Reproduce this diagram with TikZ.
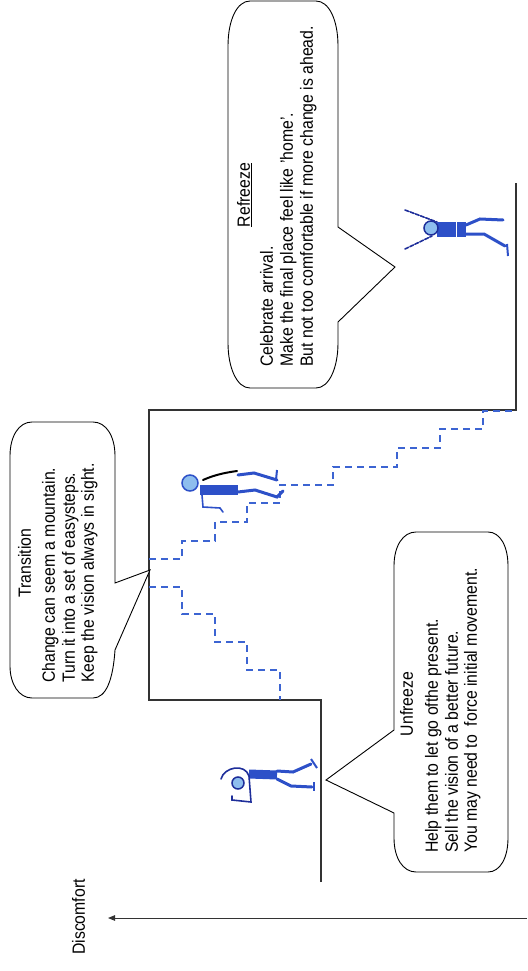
\documentclass[tikz,border=0pt]{standalone}
\usepackage{fontspec}
\setmainfont{Liberation Sans}
\usetikzlibrary{arrows.meta}
\definecolor{figblue}{HTML}{2D50C8}
\definecolor{navy}{HTML}{1E2E9A}
\definecolor{headblue}{HTML}{8EBEEE}
\definecolor{stairblue}{HTML}{3C64D2}
\definecolor{wallgray}{HTML}{333333}
\begin{document}
\begin{tikzpicture}[x=1pt,y=-1pt,
  bodytxt/.style={rotate=90, yscale=1.12, anchor=mid west, inner sep=0pt,
    font=\fontsize{15.8}{19}\selectfont},
  titletxt/.style={rotate=90, yscale=1.12, anchor=mid, inner sep=0pt,
    font=\fontsize{15.8}{19}\selectfont},
  bubble/.style={draw=black, line width=0.9pt, fill=white},
  wall/.style={draw=wallgray, line width=1.3pt},
  stairline/.style={draw=stairblue, line width=1.2pt, dash pattern=on 7pt off 5pt},
  limb/.style={draw=figblue, line width=3pt, line cap=round},
  outline/.style={draw=navy, line width=1.6pt, line cap=round},
  headshape/.style={draw=navy, fill=headblue, line width=1.5pt}]
\useasboundingbox (0,0) rectangle (527,971);

% ---- the floors: present level, stairs landing, future level
\draw[wall] (321,882) -- (321,700) -- (149,700) -- (149,410) -- (516,410) -- (516,183);

% ---- dashed steps of the transition
\draw[stairline] (149,559) -- (182,559) -- (182,541) -- (215,541) -- (215,522)
  -- (247,522) -- (247,503) -- (280,503) -- (280,485) -- (333,485) -- (333,467)
  -- (397,467) -- (397,448) -- (440,448) -- (440,429) -- (483,429) -- (483,411)
  -- (516,411);
\draw[stairline] (149,587) -- (182,587) -- (182,614) -- (215,614) -- (215,642)
  -- (247,642) -- (247,670) -- (280,670) -- (280,700);

% ---- discomfort axis
\coordinate (axisR) at (527,918);
\coordinate (axisL) at (108,918);
\draw[wallgray, line width=1pt, -{Triangle[length=7pt,width=5.5pt]}] (axisR) -- (axisL);
\node[titletxt] (discomfort) at (82,917) {Discomfort};

% ---- Refreeze callout
\draw[bubble] (250,1) -- (316,1) .. controls (329,1) and (338,20) .. (338,46)
  -- (338,227) -- (395,267) -- (338,322) -- (338,343)
  .. controls (338,368) and (329,388) .. (316,388) -- (250,388)
  .. controls (237,388) and (228,368) .. (228,343) -- (228,46)
  .. controls (228,20) and (237,1) .. (250,1) -- cycle;
\node[titletxt] (refT) at (247,195) {\underline{Refreeze}};
\node[bodytxt] (ref1) at (270,367) {Celebrate arrival.};
\node[bodytxt] (ref2) at (290,367) {Make the final place feel like 'home'.};
\node[bodytxt] (ref3) at (310,367) {But not too comfortable if more change is ahead.};

% ---- Transition callout
\draw[bubble] (32,422) -- (93,422) .. controls (106,422) and (115,436) .. (115,456)
  -- (115,583) -- (150,570) -- (115,650)
  .. controls (113,680) and (106,698) .. (93,698) -- (32,698)
  .. controls (19,698) and (10,684) .. (10,666) -- (10,456)
  .. controls (10,436) and (19,422) .. (32,422) -- cycle;
\node[titletxt] (traT) at (28,563) {Transition};
\node[bodytxt] (tra1) at (52,683) {Change can seem a mountain.};
\node[bodytxt] (tra2) at (72,683) {Turn it into a set of easysteps.};
\node[bodytxt] (tra3) at (91,683) {Keep the vision always in sight.};

% ---- Unfreeze callout
\draw[bubble] (416,532) -- (488,532) .. controls (500,532) and (508,546) .. (508,566)
  -- (508,838) .. controls (508,858) and (500,872) .. (488,872) -- (416,872)
  .. controls (403,872) and (394,858) .. (394,838) -- (394,813) -- (326,780)
  -- (394,730) -- (394,566) .. controls (394,546) and (403,532) .. (416,532) -- cycle;
\node[titletxt] (unfT) at (410,704) {Unfreeze};
\node[bodytxt] (unf1) at (435,853) {Help them to let go ofthe present.};
\node[bodytxt] (unf2) at (455,853) {Sell the vision of a better future.};
\node[bodytxt] (unf3) at (474,853) {You may need to\ \ force initial movement.};

% ---- figure on the present level
\draw[figblue, line width=9pt] (249,774) -- (277,775);
\draw[limb] (277,771) -- (293,772) -- (311,764);
\draw[limb] (277,779) -- (291,786) -- (312,787);
\draw[figblue, line width=2pt] (311,759) -- (317,768);
\draw[figblue, line width=2pt] (314,782) -- (314,791);
\draw[outline] (221,779) .. controls (224,767) and (245,763) .. (249,776)
  -- (251,802) -- (232,800) -- (232,796);
\draw[headshape] (238,783) circle (6);

% ---- figure climbing the steps
\draw[black, line width=2pt, line cap=round] (203,480) .. controls (212,476) and (222,473) .. (237,471);
\draw[figblue, line width=10pt] (200,490) -- (238,490);
\draw[limb] (238,475) -- (254,473) -- (277,480);
\draw[figblue, line width=2pt] (277,470) -- (276,480);
\draw[limb] (238,492) -- (255,490) -- (277,497) -- (283,491);
\draw[outline, draw=figblue] (202,495) -- (203,507) -- (220,508) -- (223,512);
\draw[headshape, draw=figblue] (190,483) circle (8);

% ---- figure celebrating on the future level
\draw[outline, dash pattern=on 4pt off 1.5pt] (405,210) -- (437,222);
\draw[outline, dash pattern=on 4pt off 1.5pt] (405,249) -- (432,236);
\fill[figblue] (437,222) rectangle (466,237);
\draw[white, line width=1pt] (456,222) -- (456,237);
\draw[limb] (466,225) -- (480,219) -- (503,220);
\draw[limb] (466,234) -- (484,234) -- (505,246);
\draw[figblue, line width=2pt] (507,244) -- (508,256);
\draw[headshape] (431,228) circle (7);
\end{tikzpicture}
\end{document}
